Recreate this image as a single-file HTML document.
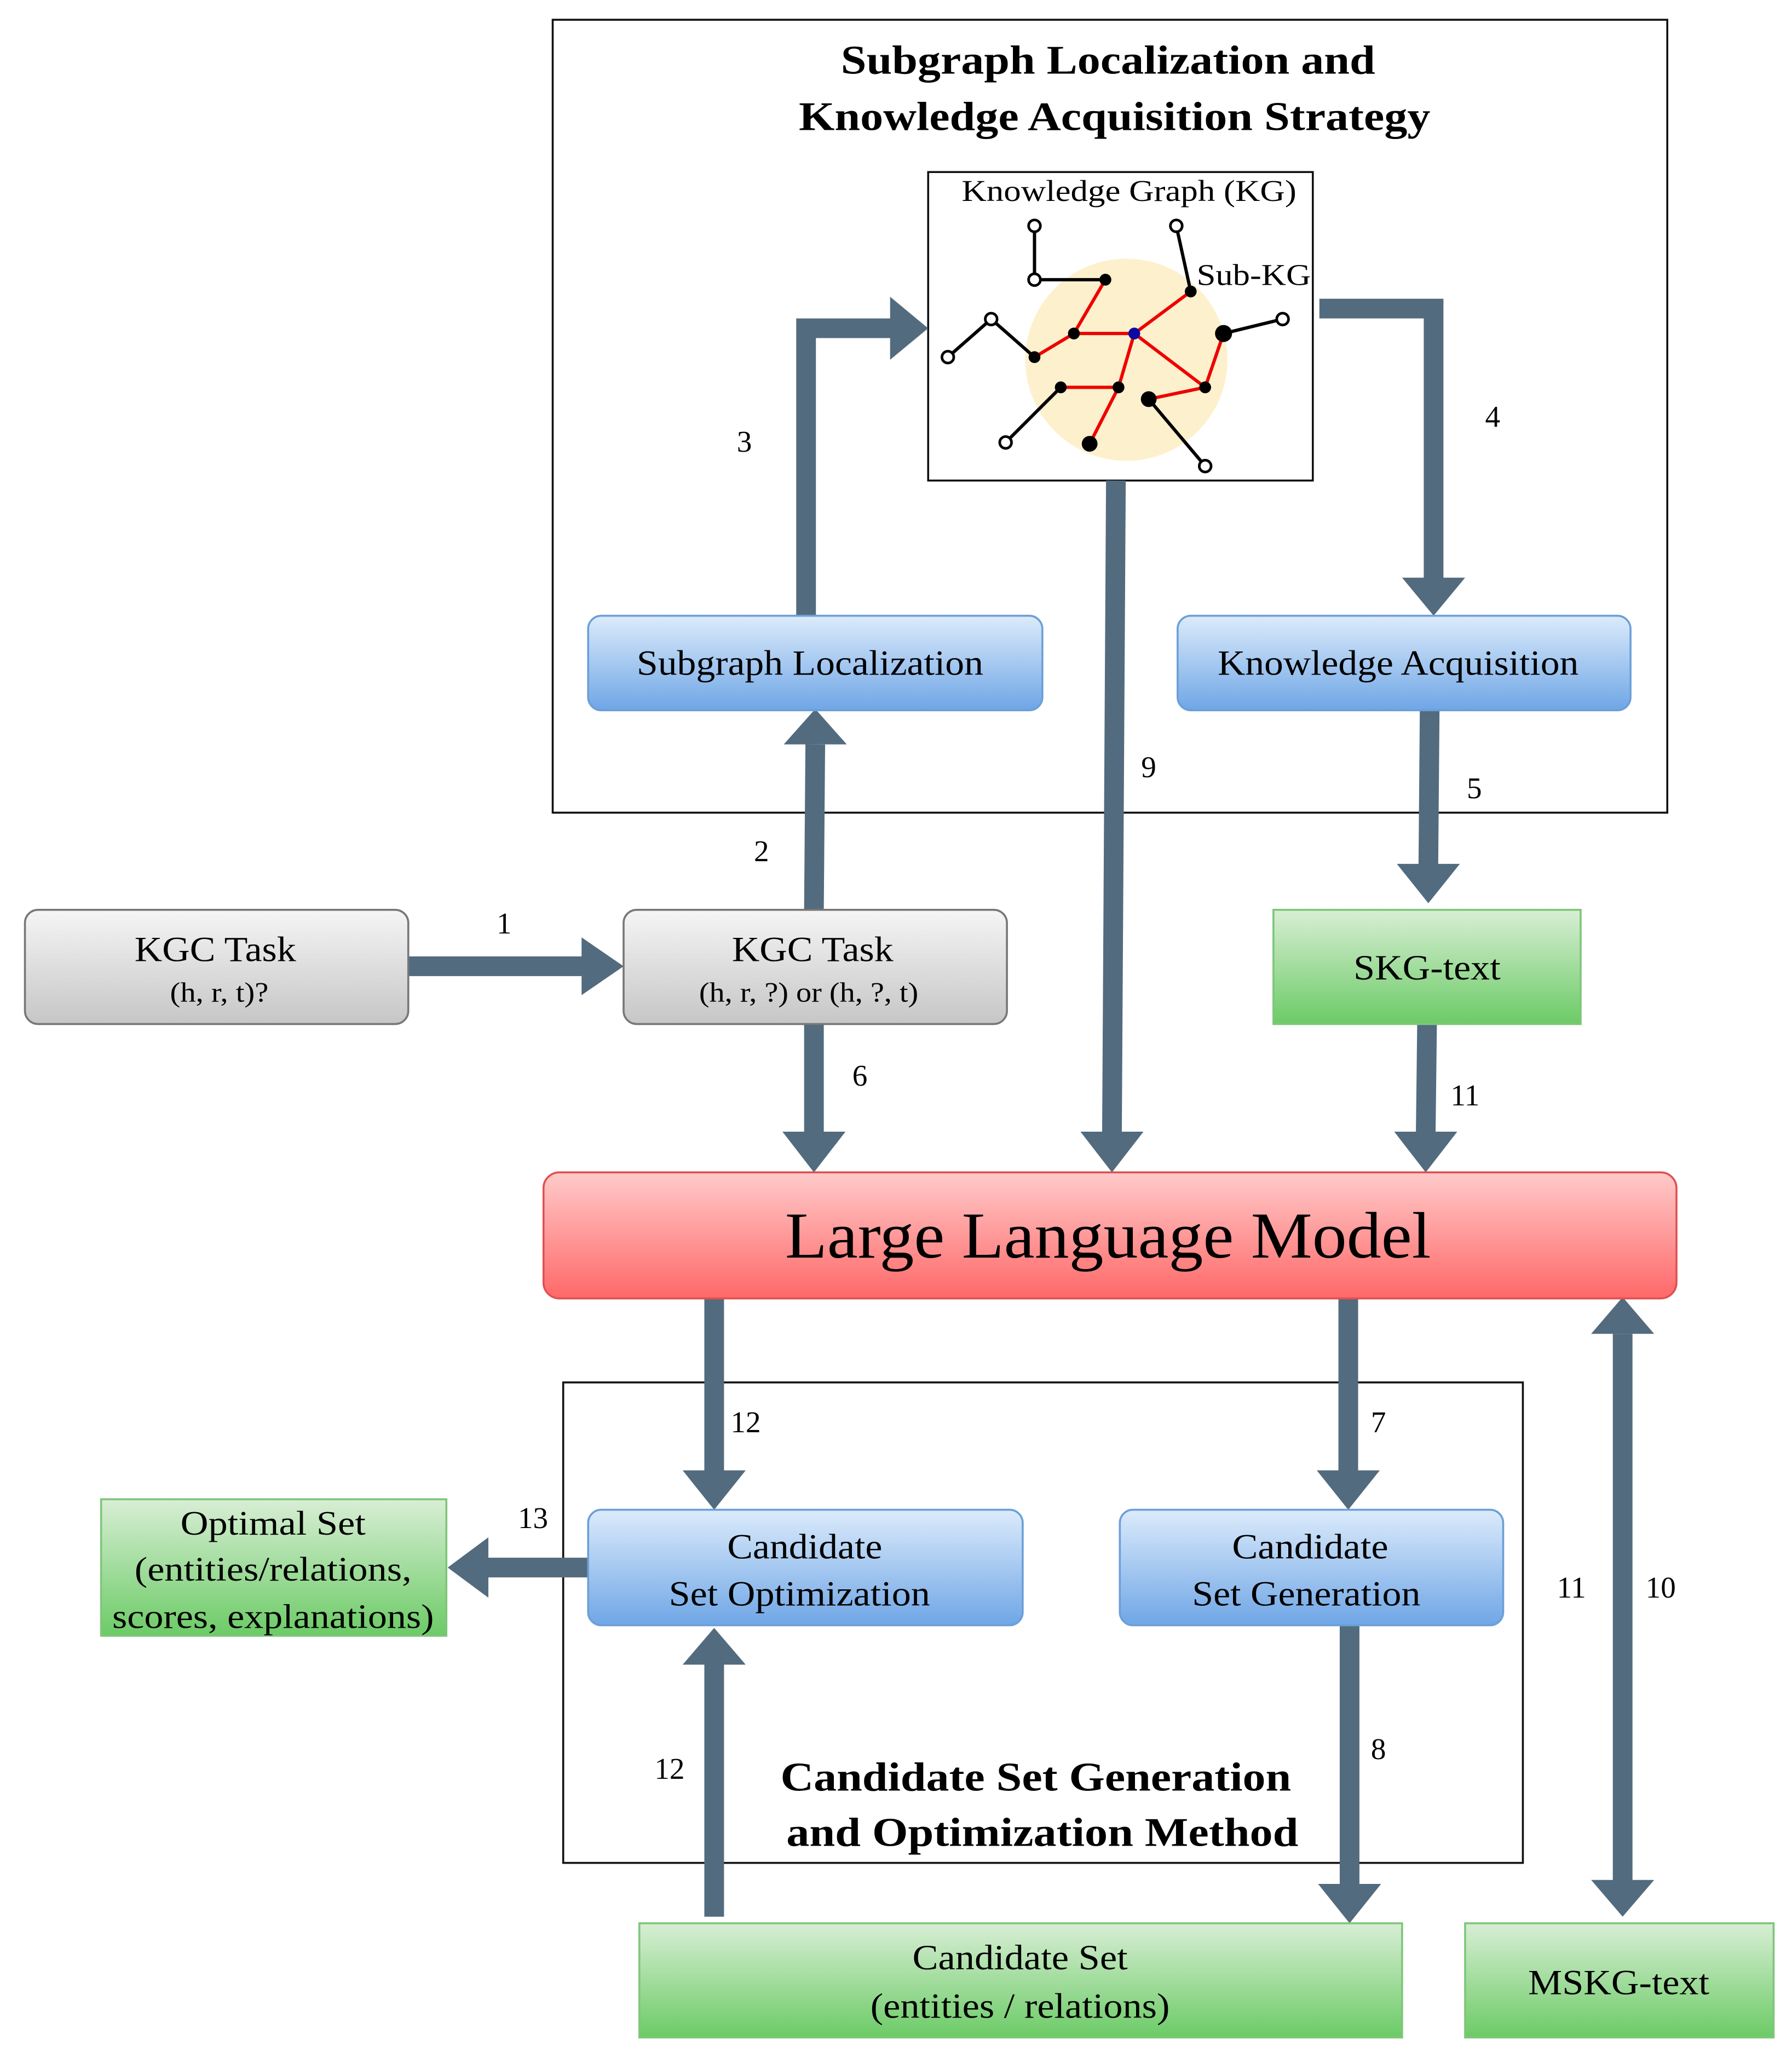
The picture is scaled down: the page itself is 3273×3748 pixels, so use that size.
<!DOCTYPE html>
<html><head><meta charset="utf-8"><style>html,body{margin:0;padding:0;background:#fff}svg{display:block}svg text{font-family:"Liberation Serif","Times New Roman",serif}</style></head>
<body>
<svg width="3273" height="3748" viewBox="0 0 1365 1563" xmlns="http://www.w3.org/2000/svg" style="font-family:'Liberation Serif',serif">
<defs>
<linearGradient id="blue" x1="0" y1="0" x2="0" y2="1"><stop offset="0" stop-color="#dcebfb"/><stop offset="1" stop-color="#6fa6e6"/></linearGradient>
<linearGradient id="gray" x1="0" y1="0" x2="0" y2="1"><stop offset="0" stop-color="#f5f5f5"/><stop offset="1" stop-color="#c6c6c6"/></linearGradient>
<linearGradient id="green" x1="0" y1="0" x2="0" y2="1"><stop offset="0" stop-color="#d8eed5"/><stop offset="1" stop-color="#6ccb66"/></linearGradient>
<linearGradient id="red" x1="0" y1="0" x2="0" y2="1"><stop offset="0" stop-color="#ffcaca"/><stop offset="1" stop-color="#ff6868"/></linearGradient>
</defs>
<rect width="1365" height="1563" fill="#fff"/>
<g lengthAdjust="spacingAndGlyphs">
<rect x="421" y="15" width="849" height="604" fill="none" stroke="#111" stroke-width="1.5"/>
<text x="844" y="56" font-size="31" font-weight="bold" text-anchor="middle" textLength="407" lengthAdjust="spacingAndGlyphs">Subgraph Localization and</text>
<text x="849" y="99" font-size="31" font-weight="bold" text-anchor="middle" textLength="481" lengthAdjust="spacingAndGlyphs">Knowledge Acquisition Strategy</text>
<rect x="429" y="1053" width="731" height="366" fill="none" stroke="#111" stroke-width="1.5"/>
<text x="789" y="1364" font-size="31" font-weight="bold" text-anchor="middle" textLength="389" lengthAdjust="spacingAndGlyphs">Candidate Set Generation</text>
<text x="794" y="1406" font-size="31" font-weight="bold" text-anchor="middle" textLength="390" lengthAdjust="spacingAndGlyphs">and Optimization Method</text>
<rect x="707" y="131" width="293" height="235" fill="#fff" stroke="#111" stroke-width="1.5"/>
<text x="860" y="153" font-size="23" text-anchor="middle" textLength="255" lengthAdjust="spacingAndGlyphs">Knowledge Graph (KG)</text>
<ellipse cx="858" cy="274" rx="77" ry="77" fill="#fdf0cc"/>
<text x="955" y="217" font-size="23" text-anchor="middle" textLength="87" lengthAdjust="spacingAndGlyphs">Sub-KG</text>
</g>
<g stroke="#000" stroke-width="2.5">
<line x1="788" y1="172" x2="788" y2="213"/><line x1="788" y1="213" x2="842" y2="213"/>
<line x1="896" y1="172" x2="907" y2="222"/><line x1="755" y1="243" x2="722" y2="272"/>
<line x1="755" y1="243" x2="788" y2="272"/><line x1="932" y1="254" x2="977" y2="243"/>
<line x1="808" y1="295" x2="766" y2="337"/><line x1="875" y1="304" x2="918" y2="355"/>
</g>
<g stroke="#e00" stroke-width="2.5">
<line x1="842" y1="213" x2="818" y2="254"/><line x1="818" y1="254" x2="864" y2="254"/>
<line x1="818" y1="254" x2="788" y2="272"/><line x1="864" y1="254" x2="907" y2="222"/>
<line x1="864" y1="254" x2="918" y2="295"/><line x1="918" y1="295" x2="932" y2="254"/>
<line x1="864" y1="254" x2="852" y2="295"/><line x1="852" y1="295" x2="808" y2="295"/>
<line x1="852" y1="295" x2="830" y2="338"/><line x1="918" y1="295" x2="875" y2="304"/>
</g>
<g fill="#fff" stroke="#000" stroke-width="2">
<circle cx="788" cy="172" r="4.5"/><circle cx="896" cy="172" r="4.5"/><circle cx="788" cy="213" r="4.5"/>
<circle cx="755" cy="243" r="4.5"/><circle cx="722" cy="272" r="4.5"/><circle cx="977" cy="243" r="4.5"/>
<circle cx="766" cy="337" r="4.5"/><circle cx="918" cy="355" r="4.5"/>
</g>
<g fill="#000">
<circle cx="842" cy="213" r="4.5"/><circle cx="907" cy="222" r="4.5"/><circle cx="818" cy="254" r="4.5"/>
<circle cx="932" cy="254" r="6.5"/><circle cx="788" cy="272" r="4.5"/><circle cx="808" cy="295" r="4.5"/>
<circle cx="852" cy="295" r="4.5"/><circle cx="918" cy="295" r="4.5"/><circle cx="875" cy="304" r="6"/>
<circle cx="830" cy="338" r="6"/>
</g>
<circle cx="864" cy="254" r="4.5" fill="#0a0aa0"/>
<g fill="none" stroke="#536b7e" stroke-width="15">
<polyline points="311,736 445,736"/>
<polyline points="620,693 621,567"/>
<polyline points="614,469 614,250 680,250"/>
<polyline points="1005,235 1092,235 1092,442"/>
<polyline points="1089,541 1088,660"/>
<polyline points="620,780 620,864"/>
<polyline points="850,366 847,864"/>
<polyline points="1087,780 1086,864"/>
<polyline points="544,989 544,1122"/>
<polyline points="1027,989 1027,1122"/>
<polyline points="448,1194 370,1194"/>
<polyline points="544,1460 544,1267"/>
<polyline points="1028,1238 1028,1437"/>
<polyline points="1236,1016 1236,1433"/>
</g>
<g fill="#536b7e">
<polygon points="443,714 475,736 443,758"/>
<polygon points="597,567 621,540 645,567"/>
<polygon points="678,226 707,250 678,274"/>
<polygon points="1068,440 1092,469 1116,440"/>
<polygon points="1064,658 1088,688 1112,658"/>
<polygon points="596,862 620,893 644,862"/>
<polygon points="823,862 847,893 871,862"/>
<polygon points="1062,862 1086,893 1110,862"/>
<polygon points="520,1120 544,1150 568,1120"/>
<polygon points="1003,1120 1027,1150 1051,1120"/>
<polygon points="372,1171 341,1194 372,1217"/>
<polygon points="520,1268 544,1240 568,1268"/>
<polygon points="1004,1435 1028,1465 1052,1435"/>
<polygon points="1212,1016 1236,988 1260,1016"/>
<polygon points="1212,1432 1236,1460 1260,1432"/>
</g>
<g font-size="23" text-anchor="middle">
<text x="384" y="711">1</text><text x="580" y="656">2</text><text x="567" y="344">3</text>
<text x="1137" y="325">4</text><text x="1123" y="608">5</text><text x="655" y="827">6</text>
<text x="875" y="592">9</text><text x="1116" y="842">11</text><text x="568" y="1091">12</text>
<text x="1050" y="1091">7</text><text x="406" y="1164">13</text><text x="510" y="1355">12</text>
<text x="1050" y="1340">8</text><text x="1197" y="1217">11</text><text x="1265" y="1217">10</text>
</g>
<rect x="448" y="469" width="346" height="72" rx="10" fill="url(#blue)" stroke="#6c9fd8" stroke-width="1.5"/>
<text x="617" y="514" font-size="27" text-anchor="middle" textLength="264" lengthAdjust="spacingAndGlyphs">Subgraph Localization</text>
<rect x="897" y="469" width="345" height="72" rx="10" fill="url(#blue)" stroke="#6c9fd8" stroke-width="1.5"/>
<text x="1065" y="514" font-size="27" text-anchor="middle" textLength="275" lengthAdjust="spacingAndGlyphs">Knowledge Acquisition</text>
<rect x="19" y="693" width="292" height="87" rx="10" fill="url(#gray)" stroke="#777" stroke-width="1.5"/>
<text x="164" y="732" font-size="27" text-anchor="middle" textLength="123" lengthAdjust="spacingAndGlyphs">KGC Task</text>
<text x="167" y="763" font-size="21" text-anchor="middle" textLength="75" lengthAdjust="spacingAndGlyphs">(h, r, t)?</text>
<rect x="475" y="693" width="292" height="87" rx="10" fill="url(#gray)" stroke="#777" stroke-width="1.5"/>
<text x="619" y="732" font-size="27" text-anchor="middle" textLength="123" lengthAdjust="spacingAndGlyphs">KGC Task</text>
<text x="616" y="763" font-size="21" text-anchor="middle" textLength="167" lengthAdjust="spacingAndGlyphs">(h, r, ?) or (h, ?, t)</text>
<rect x="970" y="693" width="234" height="87" fill="url(#green)" stroke="#7fc67a" stroke-width="1.5"/>
<text x="1087" y="746" font-size="27" text-anchor="middle" textLength="112" lengthAdjust="spacingAndGlyphs">SKG-text</text>
<rect x="414" y="893" width="863" height="96" rx="12" fill="url(#red)" stroke="#e05050" stroke-width="1.5"/>
<text x="844" y="958" font-size="50" text-anchor="middle" textLength="492" lengthAdjust="spacingAndGlyphs">Large Language Model</text>
<rect x="448" y="1150" width="331" height="88" rx="10" fill="url(#blue)" stroke="#6c9fd8" stroke-width="1.5"/>
<text x="613" y="1187" font-size="27" text-anchor="middle" textLength="118" lengthAdjust="spacingAndGlyphs">Candidate</text>
<text x="609" y="1223" font-size="27" text-anchor="middle" textLength="199" lengthAdjust="spacingAndGlyphs">Set Optimization</text>
<rect x="853" y="1150" width="292" height="88" rx="10" fill="url(#blue)" stroke="#6c9fd8" stroke-width="1.5"/>
<text x="998" y="1187" font-size="27" text-anchor="middle" textLength="119" lengthAdjust="spacingAndGlyphs">Candidate</text>
<text x="995" y="1223" font-size="27" text-anchor="middle" textLength="174" lengthAdjust="spacingAndGlyphs">Set Generation</text>
<rect x="77" y="1142" width="263" height="104" fill="url(#green)" stroke="#7fc67a" stroke-width="1.5"/>
<text x="208" y="1169" font-size="26" text-anchor="middle" textLength="141" lengthAdjust="spacingAndGlyphs">Optimal Set</text>
<text x="208" y="1204" font-size="26" text-anchor="middle" textLength="211" lengthAdjust="spacingAndGlyphs">(entities/relations,</text>
<text x="208" y="1240" font-size="26" text-anchor="middle" textLength="245" lengthAdjust="spacingAndGlyphs">scores, explanations)</text>
<rect x="487" y="1465" width="581" height="87" fill="url(#green)" stroke="#7fc67a" stroke-width="1.5"/>
<text x="777" y="1500" font-size="27" text-anchor="middle" textLength="164" lengthAdjust="spacingAndGlyphs">Candidate Set</text>
<text x="777" y="1537" font-size="27" text-anchor="middle" textLength="228" lengthAdjust="spacingAndGlyphs">(entities / relations)</text>
<rect x="1116" y="1465" width="235" height="87" fill="url(#green)" stroke="#7fc67a" stroke-width="1.5"/>
<text x="1233" y="1519" font-size="27" text-anchor="middle" textLength="138" lengthAdjust="spacingAndGlyphs">MSKG-text</text>
</svg>
</body></html>
